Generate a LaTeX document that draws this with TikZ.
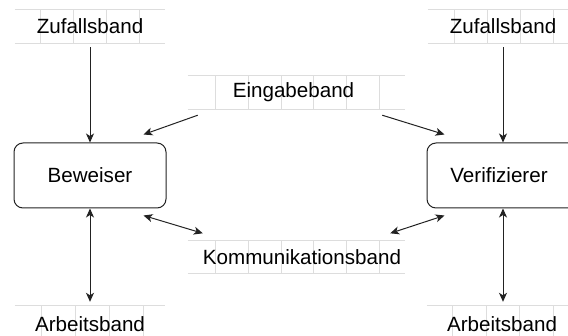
\documentclass[tikz,border=0pt]{standalone}
\usepackage{fontspec}
\setmainfont{Liberation Sans}
\usetikzlibrary{arrows.meta,calc,backgrounds}
\definecolor{tapegray}{HTML}{DDDDDD}
\definecolor{ink}{HTML}{222222}
\begin{document}
\begin{tikzpicture}[x=1pt,y=-1pt,
  font=\fontsize{20.6}{24}\selectfont,
  tape/.style={inner sep=0pt,minimum width=150pt,minimum height=33pt},
  longtape/.style={inner sep=0pt,minimum width=217pt,minimum height=33pt},
  worktape/.style={inner sep=0pt,minimum width=150pt,minimum height=36pt},
  machine/.style={draw=ink,line width=1pt,rounded corners=9pt,inner sep=0pt,
    minimum width=152pt,minimum height=65pt},
  tapeline/.style={draw=tapegray,line width=1pt},
  link/.style={draw=ink,line width=1pt,-{Stealth[length=9pt,width=8pt,inset=2.5pt]}},
  duplex/.style={draw=ink,line width=1pt,{Stealth[length=9pt,width=8pt,inset=2.5pt]}-{Stealth[length=9pt,width=8pt,inset=2.5pt]}}]
\useasboundingbox (0,0) rectangle (568,336);
\clip (0,0) rectangle (568,336);

% tapes (text nodes)
\node[tape] (zl) at (90,26.5) {Zufallsband};
\node[tape] (zr) at (503,26.5) {Zufallsband};
\node[longtape] (ein) at (296.5,92.5) {\hspace*{-6pt}Eingabeband};
\node[longtape] (kom) at (296.5,257) {\hspace*{11pt}Kommunikationsband};
\node[worktape] (al) at (90,324) {Arbeitsband};
\node[worktape] (ar) at (502,324) {Arbeitsband};

% tape cells, behind the lettering
\begin{scope}[on background layer]
\foreach \t in {zl,zr,ein,kom} {
  \draw[tapeline] (\t.north west) -- (\t.north east);
  \draw[tapeline] (\t.south west) -- (\t.south east);
}
\foreach \x in {40,73,106,139} \draw[tapeline] (\x,10) -- (\x,43);
\foreach \x in {454,487,520,553} \draw[tapeline] (\x,10) -- (\x,43);
\foreach \x in {215,248,281,313,346,379} {
  \draw[tapeline] (\x,76) -- (\x,109);
  \draw[tapeline] (\x,241) -- (\x,273);
}
\draw[tapeline] (al.north west) -- (al.north east);
\draw[tapeline] (ar.north west) -- (ar.north east);
\foreach \x in {41,75,109,143} \draw[tapeline] (\x,306) -- (\x,336);
\foreach \x in {452,486,519,553} \draw[tapeline] (\x,306) -- (\x,336);
\end{scope}

% machines
\node[machine] (bew) at (90,175.5) {Beweiser};
\node[machine] (ver) at (503,175.5) {\hspace*{-8pt}Verifizierer};

% connections
\draw[link] ([yshift=-4pt]zl.south) -- (bew.north);
\draw[link] ([yshift=-4pt]zr.south) -- (ver.north);
\draw[link] ($(ein.south west)+(10,6)$) -- ($(bew.north east)+(-23,-8)$);
\draw[link] ($(ein.south east)+(-23,6)$) -- ($(ver.north west)+(18,-8)$);
\draw[duplex] ($(bew.south east)+(-23,7)$) -- ($(kom.north west)+(15,-7)$);
\draw[duplex] ($(ver.south west)+(18,7)$) -- ($(kom.north east)+(-15,-7)$);
\draw[duplex] (bew.south) -- ([yshift=4pt]al.north);
\draw[duplex] (ver.south) -- ([yshift=4pt,xshift=1pt]ar.north);
\end{tikzpicture}
\end{document}
